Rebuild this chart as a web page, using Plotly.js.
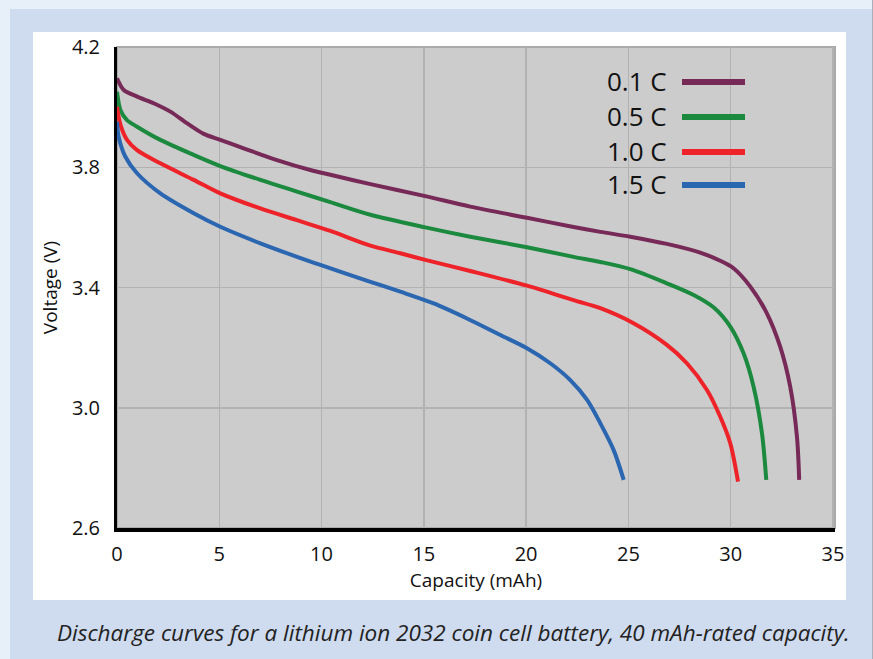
<!DOCTYPE html>
<html>
<head>
<meta charset="utf-8">
<script src="https://cdn.plot.ly/plotly-3.0.1.min.js"></script>
<style>
  html, body { margin: 0; padding: 0; width: 873px; height: 659px; overflow: hidden; background: #e7eff8; }
  #outer { position: absolute; left: 10px; top: 9px; width: 862px; height: 650px; background: #cfdbee; }
  #edge { position: absolute; left: 872px; top: 0; width: 1px; height: 659px; background: #a9b0bb; }
  #panel { position: absolute; left: 33px; top: 32px; width: 813px; height: 568px; background: #ffffff; }
  #chart { position: absolute; left: 0; top: 0; width: 873px; height: 659px; }
</style>
</head>
<body>
<div id="outer"></div>
<div id="edge"></div>
<div id="panel"></div>
<div id="chart"></div>
<script>
// ---- Data ----
const seriesNames = ['0.1 C', '0.5 C', '1.0 C', '1.5 C'];
const seriesColors = ['#772a57', '#1b8a3f', '#ee2229', '#2b66b1'];

const cap01 = [0.0, 0.33, 0.98, 1.79, 2.61, 3.43, 4.24, 5.05, 6.19, 7.82, 9.45, 10.43, 12.39, 15.07, 17.27, 20.04, 22.32, 23.63, 25.09, 26.88, 28.51, 29.49, 30.14, 30.96, 31.77, 32.42, 32.91, 33.24, 33.35];
const volt01 = [4.096, 4.057, 4.035, 4.013, 3.985, 3.946, 3.911, 3.891, 3.863, 3.824, 3.791, 3.775, 3.744, 3.704, 3.669, 3.632, 3.601, 3.585, 3.569, 3.545, 3.516, 3.489, 3.464, 3.403, 3.314, 3.203, 3.070, 2.904, 2.760];

const cap05 = [0.0, 0.17, 0.49, 0.98, 2.12, 3.75, 5.05, 7.01, 8.8, 10.43, 12.39, 15.07, 17.27, 20.04, 22.32, 23.63, 25.09, 26.88, 28.19, 29.16, 29.98, 30.63, 31.12, 31.53, 31.74];
const volt05 = [4.051, 3.990, 3.957, 3.935, 3.891, 3.841, 3.804, 3.758, 3.719, 3.684, 3.642, 3.600, 3.569, 3.534, 3.502, 3.485, 3.461, 3.414, 3.375, 3.334, 3.270, 3.181, 3.070, 2.915, 2.760];

const cap10 = [0.0, 0.17, 0.49, 0.98, 2.12, 3.75, 5.05, 7.01, 8.8, 10.43, 12.39, 13.85, 15.07, 17.27, 20.04, 22.32, 23.63, 25.25, 26.88, 27.86, 28.84, 29.49, 29.98, 30.36];
const volt10 = [4.001, 3.941, 3.891, 3.857, 3.813, 3.758, 3.713, 3.663, 3.624, 3.588, 3.539, 3.514, 3.492, 3.455, 3.406, 3.358, 3.331, 3.281, 3.209, 3.148, 3.059, 2.970, 2.882, 2.754];

const cap15 = [0.0, 0.08, 0.41, 0.98, 2.12, 3.75, 5.05, 7.01, 8.8, 9.94, 12.39, 13.85, 15.48, 17.11, 18.74, 20.04, 21.18, 22.16, 22.98, 23.63, 24.28, 24.77];
const volt15 = [3.951, 3.902, 3.835, 3.780, 3.713, 3.647, 3.602, 3.547, 3.502, 3.475, 3.419, 3.386, 3.347, 3.297, 3.242, 3.198, 3.148, 3.092, 3.026, 2.948, 2.859, 2.760];

const xTicks = [0, 5, 10, 15, 20, 25, 30, 35];
const yTicks = [2.6, 3.0, 3.4, 3.8, 4.2];
const yTickText = ['2.6', '3.0', '3.4', '3.8', '4.2'];
const xTitle = 'Capacity (mAh)';
const yTitle = 'Voltage (V)';
const caption = 'Discharge curves for a lithium ion 2032 coin cell battery, 40 mAh-rated capacity.';

const caps = [cap01, cap05, cap10, cap15];
const volts = [volt01, volt05, volt10, volt15];

// ---- Layout geometry ----
const W = 873, H = 659;
const M = { l: 117, r: 38, t: 47, b: 131 };
const PW = W - M.l - M.r, PH = H - M.t - M.b;
const px2x = px => (px - M.l) / PW;
const py2y = py => (H - M.b - py) / PH;

const FONT = '"Open Sans", "Noto Sans", sans-serif';

const traces = caps.map((c, i) => ({
  type: 'scatter', mode: 'lines', x: c, y: volts[i], name: seriesNames[i],
  line: { color: seriesColors[i], width: 4, shape: 'spline', smoothing: 0.85 },
  hoverinfo: 'skip', showlegend: false
}));

const shapes = [
  { type: 'rect', xref: 'paper', yref: 'paper', x0: 0, x1: 1, y0: 0, y1: 1,
    line: { color: '#aaaaaa', width: 2 }, fillcolor: 'rgba(0,0,0,0)', layer: 'between' },
  { type: 'rect', xref: 'paper', yref: 'paper', x0: px2x(580), x1: px2x(769), y0: py2y(200), y1: py2y(57),
    line: { width: 0 }, fillcolor: '#cccccc', layer: 'between' }
];
const annotations = [];
const legendY = [82, 117, 152, 185];
seriesNames.forEach((n, i) => {
  shapes.push({ type: 'line', xref: 'paper', yref: 'paper',
    x0: px2x(682), x1: px2x(745), y0: py2y(legendY[i]), y1: py2y(legendY[i]),
    line: { color: seriesColors[i], width: 6 }, layer: 'above' });
  annotations.push({ xref: 'paper', yref: 'paper', x: px2x(669), y: py2y(legendY[i] - 1),
    xanchor: 'right', yanchor: 'middle', showarrow: false, text: n,
    font: { family: FONT, size: 26, color: '#111111' } });
});
annotations.push({ xref: 'paper', yref: 'paper', x: px2x(55), y: py2y(632),
  xanchor: 'left', yanchor: 'middle', showarrow: false, text: '<i>' + caption + '</i>',
  font: { family: FONT, size: 22.5, color: '#222222' } });

const layout = {
  width: W, height: H,
  margin: M,
  paper_bgcolor: 'rgba(0,0,0,0)',
  plot_bgcolor: '#cccccc',
  showlegend: false,
  xaxis: {
    range: [0, 35.1], tickvals: xTicks, ticktext: xTicks.map(String),
    showgrid: true, gridcolor: '#b2b2b2', gridwidth: 1.5, zeroline: false,
    showline: true, linecolor: '#000000', linewidth: 4,
    ticks: 'outside', ticklen: 5, tickcolor: 'rgba(0,0,0,0)',
    tickfont: { family: FONT, size: 20, color: '#111111' },
    title: { text: xTitle, font: { family: FONT, size: 19, color: '#111111' }, standoff: 6 }
  },
  yaxis: {
    range: [2.6, 4.2], tickvals: yTicks, ticktext: yTickText,
    showgrid: true, gridcolor: '#b2b2b2', gridwidth: 1.5, zeroline: false,
    showline: true, linecolor: '#000000', linewidth: 3,
    ticks: 'outside', ticklen: 10, tickcolor: 'rgba(0,0,0,0)',
    tickfont: { family: FONT, size: 20, color: '#111111' },
    title: { text: yTitle, font: { family: FONT, size: 19, color: '#111111' }, standoff: 10 }
  },
  shapes: shapes,
  annotations: annotations
};

Plotly.newPlot('chart', traces, layout, { staticPlot: true, displayModeBar: false });
</script>
</body>
</html>
